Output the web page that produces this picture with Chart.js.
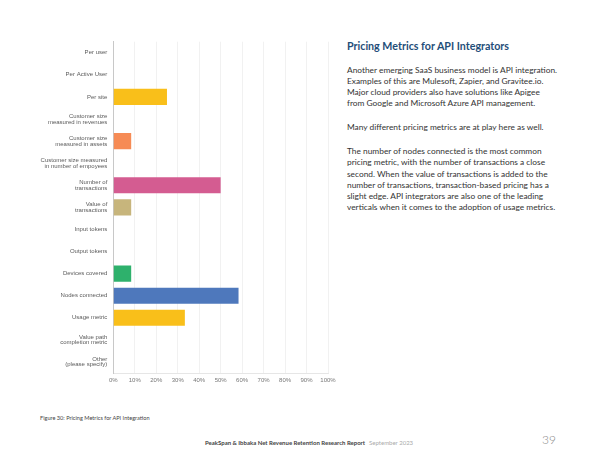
<!DOCTYPE html>
<html>
<head>
<meta charset="utf-8">
<script src="https://cdn.jsdelivr.net/npm/chart.js@4.4.0/dist/chart.umd.min.js"></script>
<style>
  html, body { margin: 0; padding: 0; background: #fff; }
  body { width: 600px; height: 463px; position: relative; overflow: hidden; font-family: Lato, "Open Sans", sans-serif; }
  #chartBox { position: absolute; left: 0; top: 30px; width: 340px; height: 362px; }
  .side { position: absolute; left: 347px; top: 38px; width: 252px; color: #333; }
  .side h2 { margin: 0 0 11.5px 0; font-size: 10.7px; font-weight: 700; color: #1f4e79; line-height: 15px; }
  .side p { margin: 0 0 12.5px 0; font-size: 8.35px; line-height: 11.3px; }
  .caption { position: absolute; left: 40px; top: 414px; font-size: 5.6px; color: #444; }
  .footer { position: absolute; left: 205px; top: 439px; font-size: 6px; color: #444; font-weight: 700; }
  .footer span { font-weight: 400; color: #aaa; margin-left: 4px; }
  .page { position: absolute; left: 542px; top: 432px; font-size: 12px; font-weight: 300; color: #888; }
</style>
</head>
<body>
<div id="chartBox"><canvas id="mainChart"></canvas></div>

<div class="side">
  <h2>Pricing Metrics for API Integrators</h2>
  <p>Another emerging SaaS business model is API integration.<br>Examples of this are Mulesoft, Zapier, and Gravitee.io.<br>Major cloud providers also have solutions like Apigee<br>from Google and Microsoft Azure API management.</p>
  <p>Many different pricing metrics are at play here as well.</p>
  <p>The number of nodes connected is the most common<br>pricing metric, with the number of transactions a close<br>second. When the value of transactions is added to the<br>number of transactions, transaction-based pricing has a<br>slight edge. API integrators are also one of the leading<br>verticals when it comes to the adoption of usage metrics.</p>
</div>

<div class="caption">Figure 30: Pricing Metrics for API Integration</div>
<div class="footer">PeakSpan &amp; Ibbaka Net Revenue Retention Research Report<span>September 2023</span></div>
<div class="page">39</div>

<script>
const categories = [
  'Per user',
  'Per Active User',
  'Per site',
  ['Customer size', 'measured in revenues'],
  ['Customer size', 'measured in assets'],
  ['Customer size measured', 'in number of empoyees'],
  ['Number of', 'transactions'],
  ['Value of', 'transactions'],
  'Input tokens',
  'Output tokens',
  'Devices covered',
  'Nodes connected',
  'Usage metric',
  ['Value path', 'completion metric'],
  ['Other', '(please specify)']
];

const shares = [0, 0, 25, 0, 8.33, 0, 50, 8.33, 0, 0, 8.33, 58.33, 33.33, 0, 0];

const barColors = [
  '#f9bf1a', '#f9bf1a', '#f9bf1a', '#f68b55', '#f68b55', '#f68b55',
  '#d45c91', '#c7b57c', '#c7b57c', '#2eb16c', '#2eb16c', '#4e78bc',
  '#f9bf1a', '#f9bf1a', '#f9bf1a'
];

const xTicks = [0, 10, 20, 30, 40, 50, 60, 70, 80, 90, 100];

const labelFont = { family: '"Liberation Sans", Arial, sans-serif', size: 6, lineHeight: 0.95 };

const ctx = document.getElementById('mainChart').getContext('2d');
new Chart(ctx, {
  type: 'bar',
  data: {
    labels: categories,
    datasets: [{
      data: shares,
      backgroundColor: barColors,
      borderWidth: 0,
      categoryPercentage: 1,
      barPercentage: 0.73
    }]
  },
  options: {
    indexAxis: 'y',
    responsive: true,
    maintainAspectRatio: false,
    animation: false,
    layout: { padding: { left: 0, right: 12, top: 6.5, bottom: 0 } },
    plugins: { legend: { display: false }, tooltip: { enabled: false } },
    scales: {
      x: {
        min: 0,
        max: 100,
        afterBuildTicks: (scale) => { scale.ticks = xTicks.map((v) => ({ value: v })); },
        afterFit: (scale) => { scale.height = 19; },
        ticks: { color: '#777', font: labelFont, padding: 4, maxRotation: 0, callback: (v) => v + '%' },
        grid: { color: '#eeeeee', lineWidth: 0.8, drawTicks: false },
        border: { color: '#e6e6e6' }
      },
      y: {
        afterFit: (scale) => { scale.width = 113.3; },
        ticks: { color: '#5a5a5a', font: labelFont, padding: 6, autoSkip: false },
        grid: { display: false, drawTicks: false },
        border: { color: '#c8c8c8' }
      }
    }
  }
});
</script>
</body>
</html>
